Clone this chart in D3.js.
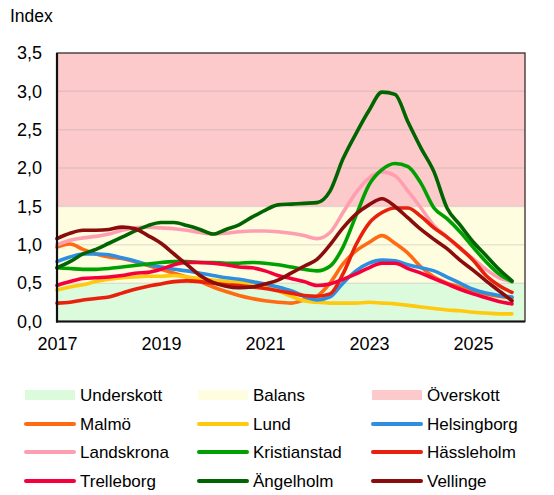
<!DOCTYPE html>
<html>
<head>
<meta charset="utf-8">
<script src="https://cdn.jsdelivr.net/npm/d3@7"></script>
<style>
  body { margin: 0; background: #fff; }
  svg text { font-family: "Liberation Sans", Arial, sans-serif; fill: #000; }
</style>
</head>
<body>
<div id="chart"></div>
<script>
// svg size
var width = 554, height = 495;

// quarterly observations, 2017 Q1 .. 2025 Q4
var quarters = d3.range(36).map(function(i){ return 2017 + i * 0.25; });

var malmo        = [0.97,1.01,0.94,0.88,0.84,0.82,0.78,0.73,0.68,0.63,0.58,0.52,0.45,0.39,0.34,0.30,0.27,0.25,0.24,0.28,0.33,0.50,0.75,0.92,1.03,1.12,1.02,0.89,0.71,0.58,0.50,0.45,0.40,0.36,0.33,0.31];
var lund         = [0.41,0.45,0.48,0.52,0.55,0.57,0.58,0.59,0.59,0.60,0.58,0.56,0.54,0.52,0.51,0.49,0.45,0.40,0.33,0.27,0.25,0.24,0.24,0.24,0.25,0.24,0.23,0.21,0.19,0.17,0.15,0.14,0.12,0.11,0.10,0.10];
var helsingborg  = [0.78,0.84,0.88,0.88,0.87,0.83,0.79,0.74,0.71,0.68,0.66,0.63,0.60,0.57,0.55,0.52,0.49,0.45,0.40,0.33,0.28,0.32,0.50,0.66,0.76,0.80,0.79,0.74,0.70,0.66,0.58,0.50,0.42,0.37,0.34,0.32];
var landskrona   = [1.00,1.06,1.09,1.11,1.14,1.19,1.22,1.23,1.22,1.21,1.19,1.16,1.14,1.15,1.17,1.18,1.18,1.17,1.15,1.12,1.08,1.16,1.42,1.68,1.87,1.95,1.90,1.70,1.48,1.25,1.10,0.95,0.82,0.68,0.57,0.52];
var kristianstad = [0.70,0.69,0.68,0.68,0.69,0.71,0.73,0.75,0.77,0.78,0.78,0.77,0.77,0.76,0.76,0.77,0.76,0.74,0.71,0.68,0.66,0.72,0.97,1.38,1.78,1.98,2.06,2.02,1.80,1.48,1.34,1.17,0.97,0.78,0.62,0.52];
var hassleholm   = [0.24,0.25,0.28,0.30,0.32,0.37,0.42,0.46,0.49,0.52,0.53,0.52,0.50,0.48,0.47,0.45,0.43,0.40,0.37,0.34,0.33,0.36,0.62,1.00,1.28,1.42,1.48,1.48,1.37,1.22,1.10,0.96,0.80,0.60,0.47,0.38];
var trelleborg   = [0.47,0.52,0.56,0.57,0.58,0.60,0.63,0.64,0.68,0.74,0.77,0.77,0.76,0.74,0.71,0.70,0.66,0.60,0.56,0.52,0.47,0.49,0.55,0.62,0.70,0.76,0.76,0.69,0.63,0.56,0.49,0.42,0.36,0.31,0.26,0.23];
var angelholm    = [0.70,0.78,0.88,0.94,1.02,1.10,1.18,1.25,1.29,1.29,1.25,1.20,1.14,1.20,1.26,1.36,1.45,1.52,1.53,1.54,1.55,1.70,2.12,2.45,2.75,2.99,2.96,2.60,2.26,1.95,1.48,1.26,1.04,0.86,0.68,0.53];
var vellinge     = [1.08,1.15,1.19,1.19,1.20,1.23,1.21,1.12,1.02,0.88,0.74,0.60,0.51,0.46,0.44,0.45,0.49,0.54,0.63,0.72,0.81,1.00,1.22,1.40,1.52,1.60,1.50,1.35,1.20,1.07,0.95,0.80,0.67,0.53,0.40,0.27];

var seriesNames  = ["Malmö","Lund","Helsingborg","Landskrona","Kristianstad","Hässleholm","Trelleborg","Ängelholm","Vellinge"];
var seriesValues = [malmo, lund, helsingborg, landskrona, kristianstad, hassleholm, trelleborg, angelholm, vellinge];
var seriesColors = ["#ff6a13","#ffc90e","#2e8fe0","#ff9eb0","#00a000","#e8200c","#f5003c","#006400","#8b0c0c"];

// background zones
var bandNames  = ["Underskott","Balans","Överskott"];
var bandLimits = [[0, 0.5], [0.5, 1.5], [1.5, 3.5]];
var bandColors = ["#dcfadc","#fefde0","#fccaca"];

// axis ticks
var yTicks = [0, 0.5, 1, 1.5, 2, 2.5, 3, 3.5];
var xTicks = [2017, 2019, 2021, 2023, 2025];

// plot area
var plotLeft = 57, plotRight = 525, plotTop = 53, plotBottom = 321.5;

var x = d3.scaleLinear().domain([2017, 2026]).range([plotLeft, plotRight]);
var y = d3.scaleLinear().domain([0, 3.5]).range([plotBottom, plotTop]);

var sv = d3.formatLocale({decimal: ",", thousands: " ", grouping: [3], currency: ["", " kr"]});
var fmt = sv.format(".1f");

var svg = d3.select("#chart")
            .append("svg")
            .attr("width", width)
            .attr("height", height);

// zones
svg.append("g")
    .selectAll("rect")
    .data(bandLimits)
    .enter()
        .append("rect")
        .attr("x", plotLeft)
        .attr("width", plotRight - plotLeft)
        .attr("y", function(d){ return y(d[1]); })
        .attr("height", function(d){ return y(d[0]) - y(d[1]); })
        .attr("fill", function(d, i){ return bandColors[i]; });

// gridlines
svg.append("g")
    .selectAll("line")
    .data(yTicks.slice(1, -1))
    .enter()
        .append("line")
        .attr("x1", plotLeft)
        .attr("x2", plotRight)
        .attr("y1", function(d){ return y(d); })
        .attr("y2", function(d){ return y(d); })
        .style("stroke", "#a0a0a0")
        .style("stroke-opacity", 0.25)
        .style("stroke-width", 1.5);

// border
svg.append("rect")
    .attr("x", plotLeft)
    .attr("y", plotTop)
    .attr("width", plotRight - plotLeft)
    .attr("height", plotBottom - plotTop)
    .attr("fill", "none")
    .style("stroke", "#3b2a2a")
    .style("stroke-width", 1.3);

// lines
var line = d3.line()
            .x(function(d){ return x(d[0]); })
            .y(function(d){ return y(d[1]); })
            .curve(d3.curveMonotoneX);

svg.append("g")
    .selectAll("path")
    .data(seriesValues)
    .enter()
        .append("path")
        .attr("d", function(vals){
            return line(vals.map(function(v, i){ return [quarters[i], v]; }));
        })
        .attr("fill", "none")
        .style("stroke", function(d, i){ return seriesColors[i]; })
        .style("stroke-width", 3.6)
        .style("stroke-linejoin", "round")
        .style("stroke-linecap", "round");

// axis lines
svg.append("line")
    .attr("x1", plotLeft).attr("x2", plotLeft)
    .attr("y1", plotTop).attr("y2", plotBottom + 1)
    .style("stroke", "#111").style("stroke-width", 2.2);
svg.append("line")
    .attr("x1", plotLeft - 1).attr("x2", plotRight)
    .attr("y1", plotBottom).attr("y2", plotBottom)
    .style("stroke", "#111").style("stroke-width", 2.2);

// y axis labels
var yAxis = svg.append("g")
    .attr("transform", "translate(" + plotLeft + ",0)")
    .call(d3.axisLeft(y).tickValues(yTicks).tickFormat(fmt).tickSize(0).tickPadding(15));
yAxis.select(".domain").remove();
yAxis.selectAll("text").style("font-size", "18px").style("font-family", "Liberation Sans, Arial, sans-serif");

// x axis labels
var xAxis = svg.append("g")
    .attr("transform", "translate(0," + plotBottom + ")")
    .call(d3.axisBottom(x).tickValues(xTicks).tickFormat(d3.format("d")).tickSize(0).tickPadding(16));
xAxis.select(".domain").remove();
xAxis.selectAll("text").style("font-size", "18px").style("font-family", "Liberation Sans, Arial, sans-serif");

svg.append("text")
    .attr("x", 10)
    .attr("y", 22)
    .style("font-size", "17.5px")
    .text("Index");

// legend
var legendItems = bandNames.map(function(n, i){ return {name: n, type: "band", color: bandColors[i]}; })
    .concat(seriesNames.map(function(n, i){ return {name: n, type: "line", color: seriesColors[i]}; }));

var colX = [25, 198, 372];
var rowY = [395, 424, 452, 481];

var legend = svg.append("g")
    .selectAll("g")
    .data(legendItems)
    .enter()
        .append("g")
        .attr("transform", function(d, i){
            return "translate(" + colX[i % 3] + "," + rowY[Math.floor(i / 3)] + ")";
        });

legend.filter(function(d){ return d.type == "band"; })
    .append("rect")
    .attr("x", 0).attr("y", -5)
    .attr("width", 50).attr("height", 10)
    .attr("fill", function(d){ return d.color; });

legend.filter(function(d){ return d.type == "line"; })
    .append("line")
    .attr("x1", 1).attr("x2", 49)
    .attr("y1", 0).attr("y2", 0)
    .style("stroke", function(d){ return d.color; })
    .style("stroke-width", 4)
    .style("stroke-linecap", "round");

legend.append("text")
    .attr("x", 55)
    .attr("y", 6)
    .style("font-size", "17px")
    .text(function(d){ return d.name; });
</script>
</body>
</html>
